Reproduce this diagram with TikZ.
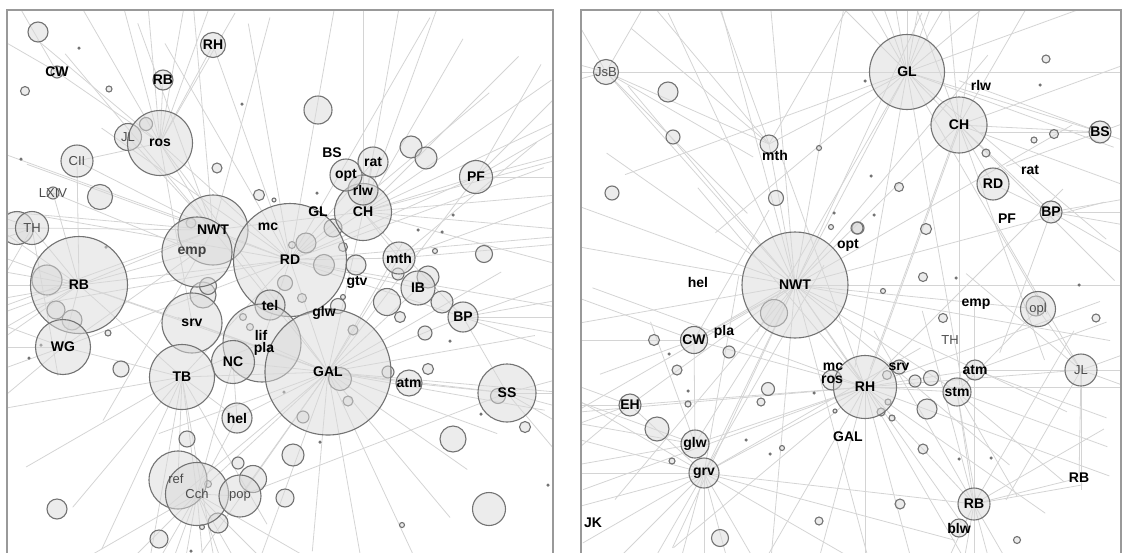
\documentclass[tikz,border=0pt]{standalone}
\usepackage{fontspec}
\setsansfont{Liberation Sans}
\usetikzlibrary{calc}
\pgfdeclarelayer{background}
\pgfsetlayers{background,main}
\tikzset{
    % Define standard text font
    font=\sffamily\bfseries\fontsize{14}{15}\selectfont,
    % Define style for term bubbles
    bub/.style={
           circle,
           draw=black!55, line width=1.1pt,
           fill=black!15, fill opacity=0.5,
           minimum size=#1pt,
           inner sep=0pt},
    % Define style for labels
    tag/.style={inner sep=0pt},
    thin/.style={inner sep=0pt, text=black!70,
           font=\sffamily\fontsize{13}{14}\selectfont},
    % Define style for small dots
    dot/.style={circle, fill=black!55, minimum size=3.5pt, inner sep=0pt},
    % Define link style
    edge/.style={draw=black!17, line width=0.8pt},
    frame/.style={draw=black!40, line width=1.4pt}
}

\begin{document}
\begin{tikzpicture}[x=1pt,y=-1pt]
  \useasboundingbox (0,0) rectangle (1124,552);

  % left panel
  \begin{scope}
    \clip (7,10) rectangle (553,560);
    \foreach \x/\y/\d [count=\i] in {38/32/20, 25/91/9, 109/89/6, 146/124/13, 217/168/10,
        100/197/25, 259/195/11, 274/200/4, 17/228/33, 191/223/10, 318/110/28, 411/147/22,
        426/158/22, 333/228/18, 343/247/9, 306/243/20, 292/245/7, 324/265/21, 356/265/20,
        285/283/15, 302/298/9, 398/274/12, 428/277/22, 442/302/22, 387/302/27, 400/317/11,
        338/306/15, 343/297/5, 353/330/10, 340/379/23, 348/401/10, 303/417/12, 388/372/12,
        425/333/14, 428/369/11, 484/254/17, 435/251/5, 47/280/30, 56/310/18, 72/320/20,
        108/333/6, 121/369/16, 203/295/26, 208/286/17, 243/317/7, 250/327/7, 187/439/16,
        238/463/12, 253/479/27, 208/484/7, 218/523/20, 202/527/5, 159/539/18, 57/509/20,
        285/498/18, 498/396/15, 525/427/11, 453/439/26, 293/455/22, 489/509/33, 402/525/5}
      \node[bub=\d] (c\i) at (\x,\y) {};
    \foreach \x/\y [count=\i] in {79/48, 242/104, 21/159, 317/193, 453/215, 418/230, 442/232,
        106/247, 41/345, 29/358, 284/392, 450/341, 320/442, 481/414, 548/485, 191/551}
      \node[dot] (d\i) at (\x,\y) {};

    \node[bub=25] (RHl) at (213,45) {};
    \node[bub=20] (RBs) at (163,80) {};
    \node[bub=12] (CWl) at (57,72) {};
    \node[bub=27] (JL) at (128,137) {};
    \node[bub=65] (ros) at (160,143) {};
    \node[bub=32] (CII) at (77,161) {};
    \node[bub=12] (LXIV) at (53,193) {};
    \node[bub=33] (TH) at (32,228) {};
    \node[bub=70] (NWT) at (213,230) {};
    \node[bub=70] (emp) at (197,252) {};
    \node[bub=113] (RD) at (290,260) {};
    \node[bub=57] (CH) at (363,212) {};
    \node[bub=30] (rlw) at (363,190) {};
    \node[bub=32] (opt) at (346,175) {};
    \node[bub=30] (rat) at (373,162) {};
    \node[bub=33] (PF) at (476,177) {};
    \node[bub=32] (mth) at (399,258) {};
    \node[bub=34] (IB) at (418,288) {};
    \node[bub=30] (BP) at (463,317) {};
    \node[bub=30] (tel) at (270,305) {};
    \node[bub=78] (pla) at (262,343) {};
    \node[bub=126] (GAL) at (328,372) {};
    \node[bub=43] (NC) at (233,362) {};
    \node[bub=60] (srv) at (192,323) {};
    \node[bub=65] (TB) at (182,377) {};
    \node[bub=97] (RB) at (79,285) {};
    \node[bub=55] (WG) at (63,347) {};
    \node[bub=30] (hel) at (237,418) {};
    \node[bub=26] (atm) at (409,383) {};
    \node[bub=58] (SS) at (507,393) {};
    \node[bub=58] (ref) at (178,480) {};
    \node[bub=63] (Cch) at (197,494) {};
    \node[bub=42] (pop) at (240,496) {};

    % labels on top of the bubbles
    \foreach \n/\t in {RHl/RH, RBs/RB, CWl/CW, ros/ros, NWT/NWT, RD/RD, CH/CH, rlw/rlw,
        opt/opt, rat/rat, PF/PF, mth/mth, IB/IB, BP/BP, tel/tel, GAL/GAL, NC/NC, srv/srv,
        TB/TB, RB/RB, WG/WG, hel/hel, atm/atm, SS/SS}
      \node[tag] (t\n) at (\n) {\t};
    \foreach \n/\t in {JL/JL, CII/CII, LXIV/LXIV, TH/TH, Cch/Cch, pop/pop}
      \node[thin] (t\n) at (\n) {\t};
    \node[thin] (tref) at (176,479) {ref};
    \node[tag,text=black!75] (temp) at (192,252) {emp};
    \node[tag] (mc) at (268,227) {mc};
    \node[tag] (GL) at (318,212) {GL};
    \node[tag] (BS) at (332,153) {BS};
    \node[tag] (gtv) at (357,282) {gtv};
    \node[tag] (glw) at (324,313) {glw};
    \node[tag] (lif) at (261,335) {lif};
    \node[tag] (tpla) at (264,349) {pla};

    \begin{pgfonlayer}{background}
    \begin{scope}
      \clip (7,10) rectangle (553,560);
      \foreach \a/\b in {GAL/RD, GAL/NWT, GAL/TB, GAL/srv, GAL/NC, GAL/CH, GAL/mth, GAL/IB,
          GAL/BP, GAL/SS, GAL/atm, GAL/Cch, GAL/hel, GAL/pop, GAL/RB, GAL/ros, GAL/PF,
          RD/NWT, RD/CH, RD/ros, RD/RB, RD/TB, RD/PF, RD/rat, RD/mth, RD/IB, RD/BP, RD/RHl,
          RD/WG, NWT/ros, NWT/RB, NWT/TH, NWT/CII, NWT/JL, NWT/CH, emp/RB, emp/WG, emp/LXIV,
          TB/RB, TB/WG, TB/Cch, TB/hel, TB/ref, ros/RHl, ros/RBs, ros/CWl, ros/CII, RB/TH,
          RB/WG, RB/CII, RB/LXIV, CH/PF, CH/rat, CH/mth, CH/BP, Cch/pop, Cch/hel, pop/SS,
          SS/BP, SS/atm, srv/RB, srv/ros, pla/GAL, pla/RD, pla/TB, NC/hel, NC/Cch}
        \draw[edge] (\a.center) -- (\b.center);
      \foreach \h/\a/\l in {GAL/20/180, GAL/35/170, GAL/50/190, GAL/65/200, GAL/80/190,
          GAL/95/180, GAL/110/200, GAL/125/220, GAL/140/210, GAL/160/180, GAL/200/160,
          GAL/300/150, GAL/330/200, GAL/350/210, GAL/10/220, GAL/5/240,
          RD/190/250, RD/200/280, RD/215/230, RD/240/250, RD/260/240, RD/280/260,
          RD/300/280, RD/320/260, RD/340/270, RD/355/270, RD/170/260, RD/10/270,
          NWT/185/220, NWT/200/230, NWT/230/230, NWT/250/220, NWT/265/230, NWT/285/220,
          NWT/160/220, NWT/120/220,
          CH/300/200, CH/315/220, CH/325/230, CH/335/220, CH/345/220, CH/355/210, CH/5/200,
          CH/15/210, CH/280/220, CH/290/230, CH/270/220,
          ros/240/170, ros/255/160, ros/265/150, ros/280/160, ros/220/160, ros/290/170, ros/300/150,
          RB/170/120, RB/180/120, RB/190/110, RB/200/130, RB/160/100, RB/150/110, RB/145/130, RB/215/140,
          TB/100/180, TB/115/190, TB/130/170, TB/80/190, TB/60/170, TB/150/180, TB/170/200,
          Cch/70/100, Cch/85/100, Cch/100/100, Cch/110/100, Cch/60/100, Cch/45/120, Cch/120/110,
          Cch/135/120, Cch/150/130, Cch/30/150,
          PF/330/120, PF/345/110, PF/0/100, PF/300/130, PF/315/110,
          BP/0/120, BP/350/120, BP/10/120, BP/340/140, BP/20/110,
          SS/0/80, SS/345/70, SS/15/80, SS/30/80, SS/50/100,
          mth/340/190, mth/320/180, mth/355/170,
          WG/180/80, WG/160/90, WG/200/80, WG/140/100,
          TH/180/60, TH/200/80, TH/160/60, TH/120/150, TH/80/150,
          CWl/240/90, CWl/210/80}
      {
        \coordinate (\h-\a) at ($(\h)+(\a:\l)$);
        \draw[edge] (\h.center) -- (\h-\a);
      }
    \end{scope}
    \end{pgfonlayer}
  \end{scope}
  \draw[frame] (7,10) rectangle (553,560);

  % right panel
  \begin{scope}
    \clip (581,10) rectangle (1121,560);
    \foreach \x/\y/\d [count=\i] in {668/92/20, 673/137/14, 819/148/5, 612/193/14, 776/198/15,
        858/228/12, 926/229/11, 923/277/9, 883/291/5, 943/318/9, 774/313/27, 1046/59/8,
        1054/134/9, 1034/140/6, 986/153/8, 899/187/9, 857/228/12, 1096/318/8, 887/375/9,
        915/381/12, 931/378/15, 927/409/20, 768/389/13, 761/402/8, 835/411/4, 888/402/6,
        881/412/8, 892/418/6, 654/340/11, 729/352/12, 677/370/10, 688/404/6, 657/429/24,
        672/461/6, 782/448/5, 720/538/17, 819/521/8, 900/504/10, 1017/540/7, 923/449/10,
        831/227/5, 1036/306/20}
      \node[bub=\d] (r\i) at (\x,\y) {};
    \foreach \x/\y [count=\i] in {834/213, 874/215, 865/81, 1040/85, 871/176, 956/278,
        1079/285, 814/393, 669/354, 688/391, 746/440, 770/454, 959/459, 991/458}
      \node[dot] (rd\i) at (\x,\y) {};

    \node[bub=25] (rJsB) at (606,72) {};
    \node[bub=75] (rGL) at (907,72) {};
    \node[bub=56] (rCH) at (959,125) {};
    \node[bub=18] (rmth) at (769,144) {};
    \node[bub=22] (rBS) at (1100,132) {};
    \node[bub=32] (rRD) at (993,184) {};
    \node[bub=22] (rBP) at (1051,212) {};
    \node[bub=106] (rNWT) at (795,285) {};
    \node[bub=35] (ropl) at (1038,309) {};
    \node[bub=27] (rCW) at (694,340) {};
    \node[bub=20] (rros) at (832,380) {};
    \node[bub=63] (rRH) at (865,387) {};
    \node[bub=14] (rsrv) at (899,367) {};
    \node[bub=20] (ratm) at (975,370) {};
    \node[bub=28] (rstm) at (957,392) {};
    \node[bub=32] (rJL) at (1081,370) {};
    \node[bub=22] (rEH) at (630,405) {};
    \node[bub=28] (rglw) at (695,444) {};
    \node[bub=30] (rgrv) at (704,473) {};
    \node[bub=32] (rRB) at (974,504) {};
    \node[bub=18] (rblw) at (959,528) {};

    % labels on top of the bubbles
    \foreach \n/\t in {rGL/GL, rCH/CH, rBS/BS, rRD/RD, rBP/BP, rNWT/NWT, rCW/CW, rRH/RH,
        rsrv/srv, ratm/atm, rstm/stm, rEH/EH, rglw/glw, rgrv/grv, rRB/RB, rblw/blw}
      \node[tag] (t\n) at (\n) {\t};
    \foreach \n/\t in {rJsB/JsB, ropl/opl, rJL/JL}
      \node[thin] (t\n) at (\n) {\t};
    \node[tag] (rrlw) at (981,85) {rlw};
    \node[tag] (rmtht) at (775,155) {mth};
    \node[tag] (rrat) at (1030,170) {rat};
    \node[tag] (rPF) at (1007,219) {PF};
    \node[tag] (ropt) at (848,245) {opt};
    \node[tag] (rhel) at (698,282) {hel};
    \node[tag] (remp) at (976,304) {emp};
    \node[thin] (rTH) at (950,340) {TH};
    \node[tag] (rpla) at (724,332) {pla};
    \node[tag] (rmc) at (833,367) {mc};
    \node[tag] (rrost) at (832,380) {ros};
    \node[tag] (rGAL) at (848,437) {GAL};
    \node[tag] (rRBt) at (1079,478) {RB};
    \node[tag] (rJK) at (593,523) {JK};

    \begin{pgfonlayer}{background}
    \begin{scope}
      \clip (581,10) rectangle (1121,560);
      \foreach \a/\b in {rNWT/rRH, rNWT/rGL, rNWT/rCH, rNWT/rCW, rNWT/rmth, rNWT/rJsB,
          rNWT/rglw, rNWT/rgrv, rNWT/rstm, rNWT/ropl, rNWT/rEH, rRH/rstm, rRH/ratm,
          rRH/rgrv, rRH/rRB, rRH/rglw, rRH/rJL, rRH/rCW, rRH/rEH, rGL/rCH, rGL/rBS,
          rGL/rmth, rCH/rRD, rCH/rBP, rCH/rBS, rJsB/rmth, rJL/rRBt, rRB/rRBt, rRB/rstm,
          rgrv/rEH, rglw/rCW, ropl/rJL, ropl/rstm, rRD/rBP, rgrv/rRB}
        \draw[edge] (\a.center) -- (\b.center);
      \foreach \h/\a/\l in {rNWT/190/240, rNWT/200/250, rNWT/215/230, rNWT/230/260,
          rNWT/245/300, rNWT/255/290, rNWT/265/280, rNWT/280/300, rNWT/295/300,
          rNWT/310/300, rNWT/330/320, rNWT/345/320, rNWT/0/330, rNWT/10/320, rNWT/25/300,
          rNWT/40/280, rNWT/55/290, rNWT/75/290, rNWT/95/280, rNWT/115/290, rNWT/130/280,
          rNWT/150/260, rNWT/170/250,
          rRH/60/200, rRH/75/190, rRH/90/180, rRH/105/180, rRH/120/200, rRH/35/220,
          rRH/20/260, rRH/0/260, rRH/340/250, rRH/315/280, rRH/290/280, rRH/250/250,
          rRH/230/260, rRH/200/290, rRH/175/300, rRH/160/300, rRH/140/250,
          rGL/250/110, rGL/260/110, rGL/270/110, rGL/280/110, rGL/290/120, rGL/240/150,
          rGL/225/200, rGL/300/130, rGL/320/220, rGL/340/230, rGL/0/230, rGL/20/220,
          rGL/120/300, rGL/100/300, rGL/80/320, rGL/60/280, rGL/40/260, rGL/140/250,
          rGL/160/300, rGL/180/290,
          rCH/250/150, rCH/265/150, rCH/280/140, rCH/300/140, rCH/70/250, rCH/90/260,
          rCH/110/260, rCH/45/220, rCH/20/200, rCH/340/180,
          rgrv/60/130, rgrv/75/120, rgrv/90/110, rgrv/105/100, rgrv/120/110, rgrv/135/120,
          rgrv/150/140, rgrv/165/150, rgrv/180/140, rgrv/195/150, rgrv/210/160, rgrv/30/200,
          rgrv/15/260, rgrv/330/250, rgrv/300/240, rgrv/280/200,
          rglw/190/140, rglw/200/140, rglw/170/130, rglw/250/130,
          rJsB/180/50, rJsB/165/60, rJsB/195/50, rJsB/240/70, rJsB/300/70, rJsB/45/200, rJsB/30/170,
          rRB/60/80, rRB/75/80, rRB/90/80, rRB/100/80, rRB/115/90, rRB/240/200, rRB/255/200,
          rRB/270/200, rRB/300/200, rRB/330/150, rRB/350/110,
          rJL/90/120, rJL/0/60, rJL/340/60, rJL/20/60, rJL/220/150, rJL/240/170, rJL/120/150,
          rCW/200/150, rCW/180/120, rCW/160/100, rCW/300/150, rCW/330/120,
          rBS/180/120, rBS/200/150, rBS/160/100, rBS/340/40, rBS/20/40,
          rstm/60/120, rstm/80/110, rstm/40/140, rstm/20/160,
          rEH/180/60, rEH/200/60, rEH/160/70, rEH/140/100,
          ratm/0/150, ratm/340/140, ratm/20/140,
          rBP/0/100, rBP/350/100, rBP/10/90, rBP/30/100, rBP/110/150,
          rmth/250/150, rmth/230/200, rmth/220/180, rmth/300/200}
      {
        \coordinate (\h-\a) at ($(\h)+(\a:\l)$);
        \draw[edge] (\h.center) -- (\h-\a);
      }
    \end{scope}
    \end{pgfonlayer}
  \end{scope}
  \draw[frame] (581,10) rectangle (1121,560);
\end{tikzpicture}
\end{document}
